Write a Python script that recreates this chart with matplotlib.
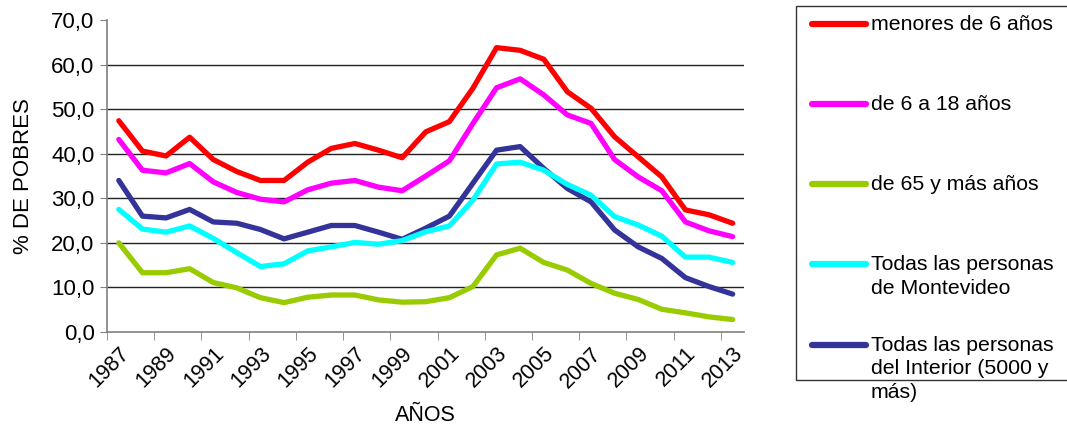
import matplotlib.pyplot as plt
import numpy as np
from matplotlib.lines import Line2D
from matplotlib.patches import Rectangle
from matplotlib.ticker import FuncFormatter

plt.rcParams['font.family'] = ['Liberation Sans', 'DejaVu Sans']

# --- Poverty incidence by group, 1987-2013 (%) ---
years = list(range(1987, 2014))

menores_6 = [47.4, 40.6, 39.5, 43.7, 38.7, 36.0, 34.0, 34.0, 38.1, 41.2, 42.3, 40.8, 39.1, 44.9,
             47.2, 54.7, 63.8, 63.2, 61.2, 53.9, 50.2, 43.8, 39.3, 34.8, 27.4, 26.3, 24.4]
de_6_a_18 = [43.2, 36.3, 35.7, 37.8, 33.7, 31.3, 29.8, 29.2, 31.9, 33.4, 34.0, 32.5, 31.7, 35.0,
             38.4, 46.8, 54.8, 56.8, 53.2, 48.7, 46.8, 38.7, 34.8, 31.7, 24.7, 22.7, 21.4]
de_65_y_mas = [20.0, 13.3, 13.3, 14.2, 11.1, 9.9, 7.7, 6.6, 7.8, 8.3, 8.3, 7.2, 6.7, 6.8,
               7.7, 10.2, 17.3, 18.8, 15.6, 13.9, 10.9, 8.7, 7.3, 5.1, 4.3, 3.4, 2.8]
montevideo = [27.5, 23.1, 22.4, 23.8, 21.0, 17.8, 14.7, 15.3, 18.2, 19.1, 20.1, 19.7, 20.5, 22.5,
              23.8, 29.6, 37.7, 38.1, 36.3, 33.1, 30.7, 25.9, 24.0, 21.5, 16.8, 16.8, 15.6]
interior = [34.0, 26.0, 25.6, 27.5, 24.7, 24.4, 23.0, 20.9, 22.4, 23.9, 23.9, 22.4, 20.8, 23.3,
            26.0, 33.4, 40.8, 41.6, 36.7, 32.2, 29.2, 22.9, 19.1, 16.5, 12.2, 10.2, 8.5]

series_labels = ['menores de 6 años', 'de 6 a 18 años', 'de 65 y más años',
                 'Todas las personas\nde Montevideo',
                 'Todas las personas\ndel Interior (5000 y\nmás)']
series_colors = ['#FF0000', '#FF00FF', '#99CC00', '#00FFFF', '#333399']
y_ticks = [0, 10, 20, 30, 40, 50, 60, 70]

fig = plt.figure(figsize=(10.67, 4.25), dpi=100)
ax = fig.add_axes([0.1003, 0.2188, 0.5974, 0.7341])

x = np.arange(len(years))
# draw back to front so the red series sits on top
series = [menores_6, de_6_a_18, de_65_y_mas, montevideo, interior]
for values, color in reversed(list(zip(series, series_colors))):
    ax.plot(x, values, color=color, lw=3.8, solid_capstyle='round', solid_joinstyle='round')

ax.set_xlim(-0.5, len(years) - 0.5)
ax.set_ylim(0, 70)

# horizontal grid lines (none on the top value)
for v in y_ticks[1:-1]:
    ax.axhline(v, color='#222222', lw=1.0, zorder=0)

ax.set_yticks(y_ticks)
ax.yaxis.set_major_formatter(FuncFormatter(lambda v, p: f'{v:.1f}'.replace('.', ',')))
ax.tick_params(axis='y', direction='out', length=5, color='#808080', labelsize=16, pad=4)

# year labels on every other category, tick marks between categories
ax.set_xticks(x[::2])
ax.set_xticklabels([str(y) for y in years[::2]], rotation=45, ha='right', va='top',
                   rotation_mode='anchor', fontsize=15.5)
ax.tick_params(axis='x', which='major', length=0, pad=8)
ax.set_xticks(np.arange(-0.5, len(years) - 1, 2), minor=True)
ax.tick_params(axis='x', which='minor', direction='out', length=6, color='#808080')

for side in ['top', 'right']:
    ax.spines[side].set_visible(False)
for side in ['left', 'bottom']:
    ax.spines[side].set_color('#808080')
    ax.spines[side].set_linewidth(1.2)

ax.set_ylabel('% DE POBRES', fontsize=16, labelpad=12)
ax.set_xlabel('AÑOS', fontsize=15.5, labelpad=9)

# legend box on the right
W, H = 1067.0, 425.0
fig.add_artist(Rectangle((796 / W, 1 - 380 / H), 0.3, (380 - 6) / H, transform=fig.transFigure,
                         fill=False, edgecolor='#333333', lw=1.0))
entry_y = [23.5, 104, 184, 264, 345]
for label, color, yp in zip(series_labels, series_colors, entry_y):
    fy = 1 - yp / H
    fig.add_artist(Line2D([812 / W, 866 / W], [fy, fy], transform=fig.transFigure,
                          color=color, lw=4.5, solid_capstyle='round'))
    fig.text(871 / W, fy + 9 / H, label, fontsize=15.3, ha='left', va='top', linespacing=1.3)

fig.savefig('out.png', dpi=100)
